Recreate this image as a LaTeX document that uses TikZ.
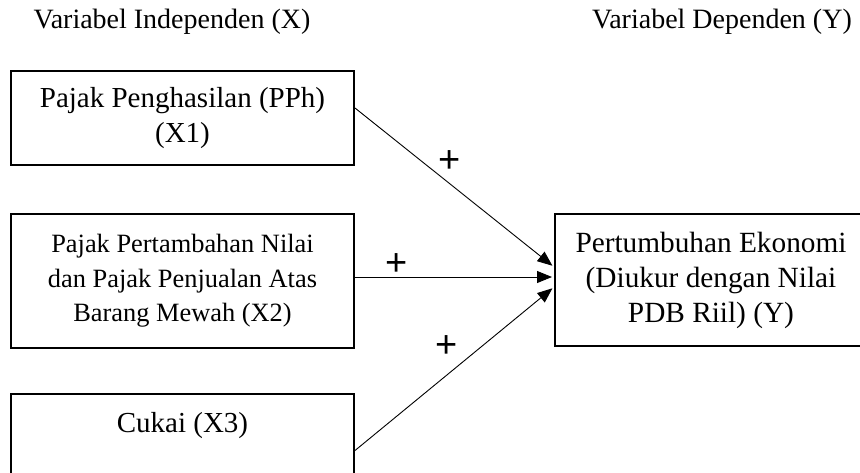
\documentclass[tikz,border=0pt]{standalone}
\usepackage{fontspec}
\setmainfont{Liberation Serif}
\newfontfamily\plusfont{Liberation Sans}
\usetikzlibrary{arrows.meta}
\tikzset{
  box/.style={draw, line width=2pt, minimum width=343pt, align=center, inner sep=0pt},
  conn/.style={line width=0.9pt, -{Triangle[length=15pt,width=12pt]}, shorten >=2pt},
  plus/.style={font=\plusfont\fontsize{38}{38}\selectfont, inner sep=0pt},
  title/.style={font=\fontsize{28}{30}\selectfont, inner sep=0pt}
}
\begin{document}
\begin{tikzpicture}[x=1pt,y=-1pt]
\useasboundingbox (0,0) rectangle (860,472);
\clip (0,0) rectangle (860,472);
\node[title] (tx) at (172,22) {Variabel Independen (X)};
\node[title] (ty) at (722,22) {Variabel Dependen (Y)};
\node[box, minimum height=94pt, font=\fontsize{29}{35}\selectfont] (b1) at (182.5,118) {Pajak Penghasilan (PPh)\\(X1)};
\node[box, minimum height=134pt, font=\fontsize{26.4}{34.5}\selectfont] (b2) at (182.5,281) {Pajak Pertambahan Nilai\\dan Pajak Penjualan Atas\\Barang Mewah (X2)};
\node[box, anchor=north, inner ysep=17pt, text height=21pt, text depth=78pt, font=\fontsize{29}{35}\selectfont] (b3) at (182.5,393) {Cukai (X3)};
\node[box, minimum width=312pt, minimum height=132pt, font=\fontsize{29.3}{35}\selectfont] (y) at (711,280) {Pertumbuhan Ekonomi\\(Diukur dengan Nilai\\PDB Riil) (Y)};
\draw[conn] ([yshift=10pt]b1.east) -- ([yshift=13pt]y.west);
\draw[conn] ([yshift=4pt]b2.east) -- ([yshift=3pt]y.west);
\draw[conn] ([yshift=10pt]b3.east) -- ([yshift=-7pt]y.west);
\node[plus] (p1) at (450,162) {+};
\node[plus] (p2) at (397,265) {+};
\node[plus] (p3) at (447,347) {+};
\end{tikzpicture}
\end{document}
